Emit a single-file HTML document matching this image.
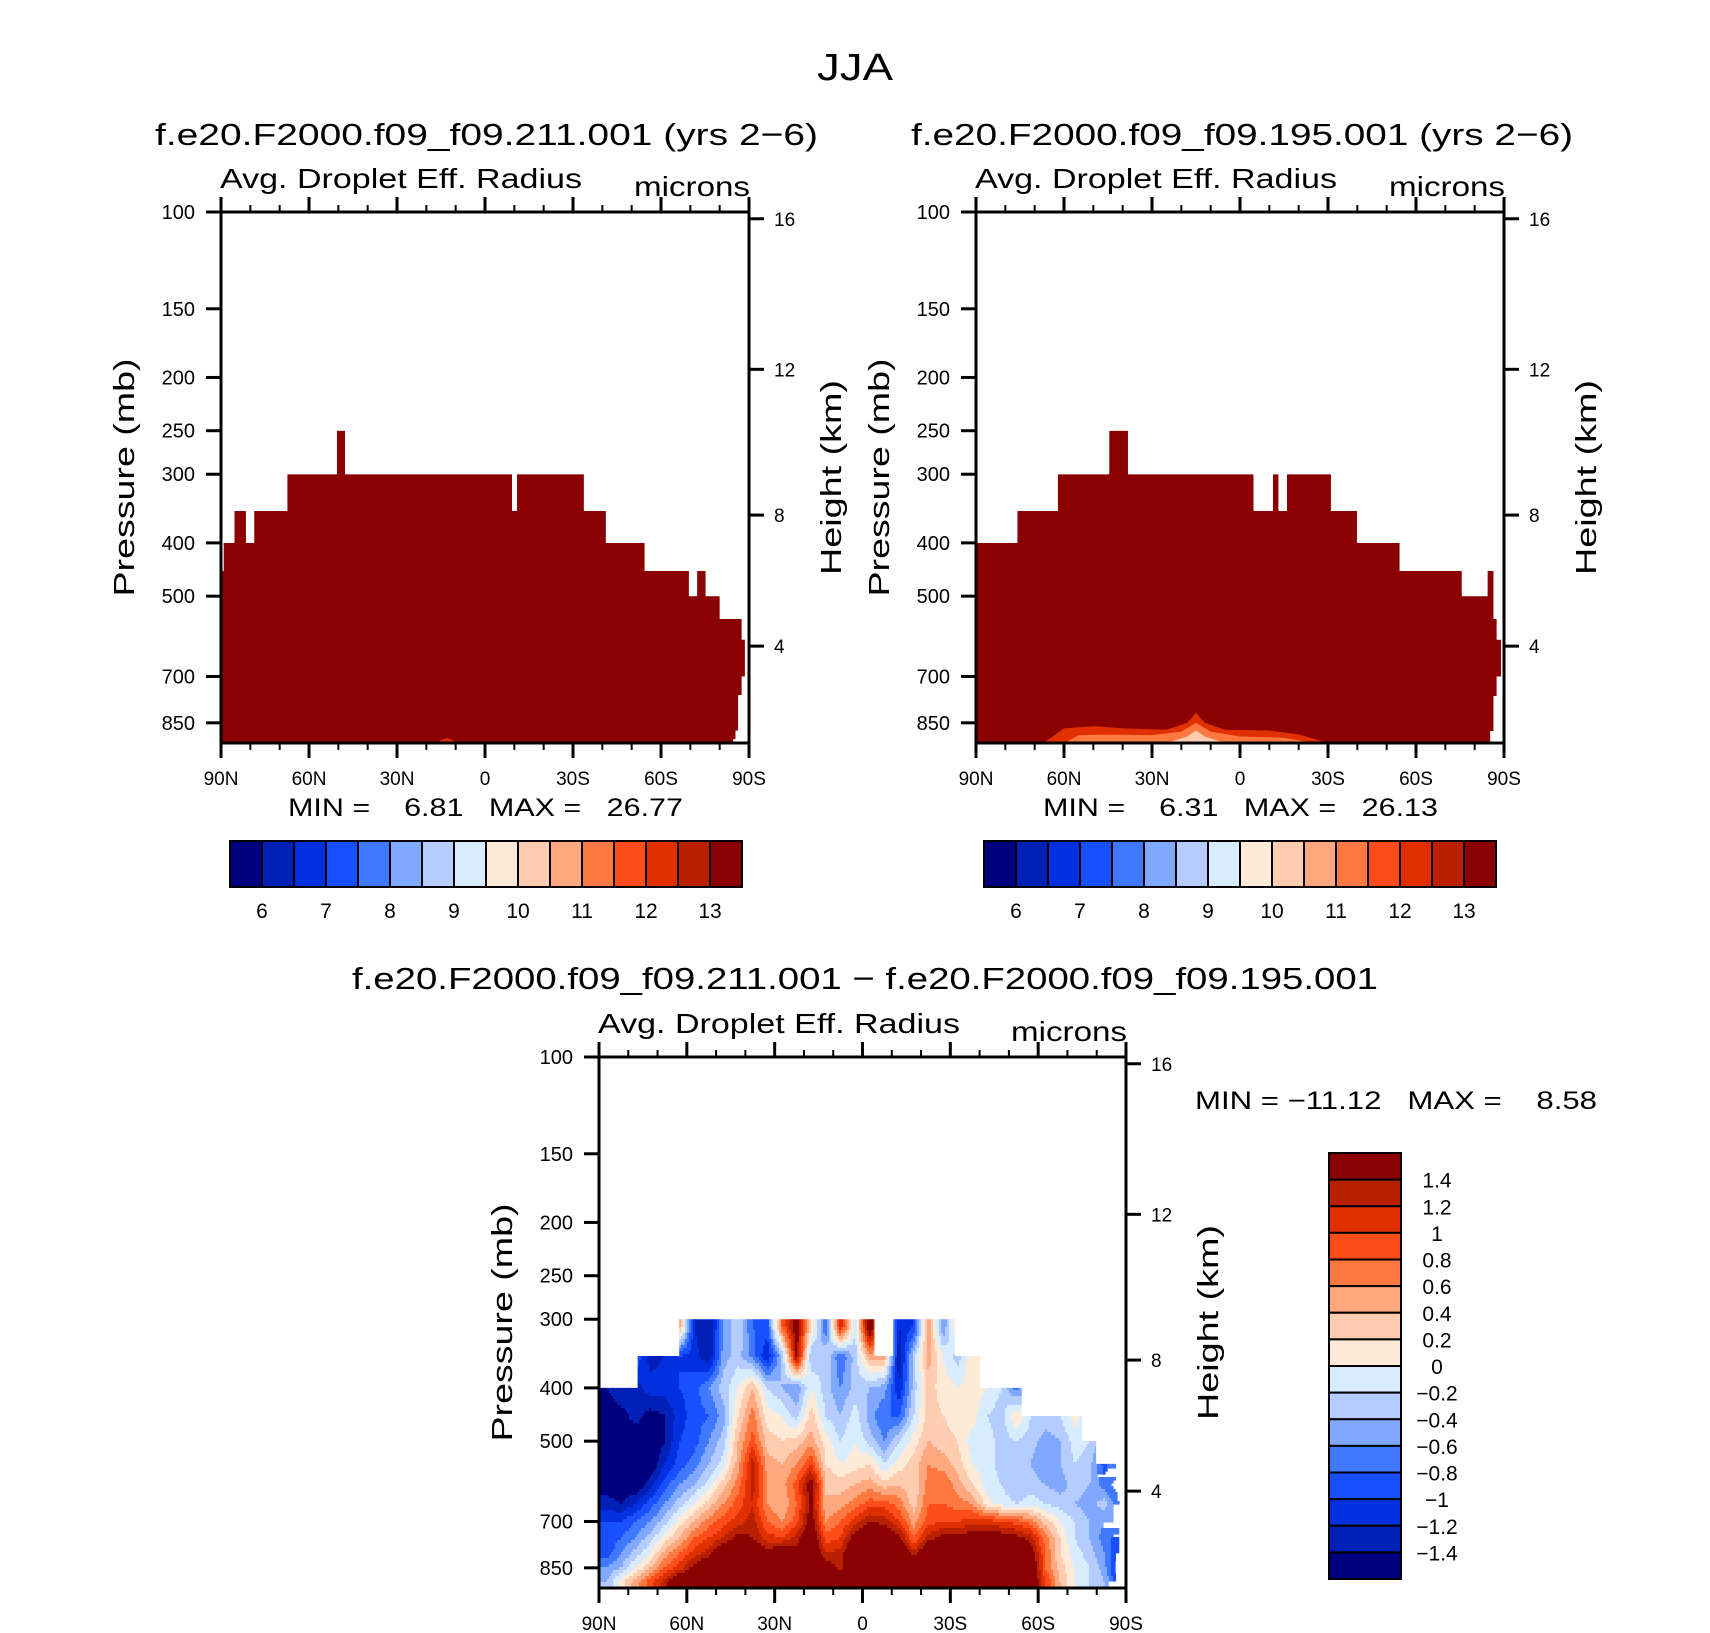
<!DOCTYPE html>
<html><head><meta charset="utf-8"><style>
html,body{margin:0;padding:0;background:#fff}
svg{display:block}
text{font-family:"Liberation Sans",sans-serif;fill:#000}
.pre{white-space:pre}
</style></head><body>
<svg id="chart" width="1710" height="1633" viewBox="0 0 1710 1633" xmlns="http://www.w3.org/2000/svg">
<text x="855" y="80" font-size="38" text-anchor="middle" textLength="76" lengthAdjust="spacingAndGlyphs">JJA</text>
<text x="155" y="145" font-size="31" textLength="663" lengthAdjust="spacingAndGlyphs">f.e20.F2000.f09_f09.211.001 (yrs 2−6)</text>
<text x="911" y="145" font-size="31" textLength="662" lengthAdjust="spacingAndGlyphs">f.e20.F2000.f09_f09.195.001 (yrs 2−6)</text>
<text x="352" y="989" font-size="31" textLength="1026" lengthAdjust="spacingAndGlyphs">f.e20.F2000.f09_f09.211.001 − f.e20.F2000.f09_f09.195.001</text>
<g id="layer"></g>
</svg>
<script>
// ---- data ----
const pressureTicks=[100,150,200,250,300,400,500,700,850];
const heightTicks=[4,8,12,16];
const latTicks=[90,80,70,60,50,40,30,20,10,0,-10,-20,-30,-40,-50,-60,-70,-80,-90];
const latMajorLabels={"90":"90N","60":"60N","30":"30N","0":"0","-30":"30S","-60":"60S","-90":"90S"};
const palette=["#00007f","#0020b8","#0030e0","#1850ff","#4078ff","#80a8ff","#b4ccff","#d8ecff","#ffead8","#ffccb0","#ffa880","#ff7840","#ff4c18","#e03000","#b82000","#8b0000"];
const absLabels=["6","7","8","9","10","11","12","13"];
const diffLabels=["1.4","1.2","1","0.8","0.6","0.4","0.2","0","−0.2","−0.4","−0.6","−0.8","−1","−1.2","−1.4"];
const diffLevels=[-1.4,-1.2,-1,-0.8,-0.6,-0.4,-0.2,0,0.2,0.4,0.6,0.8,1,1.2,1.4];
// columns: [latFrom, latTo, topPressure, bottomPressure]
const p1Columns=[[90,89.1,450,925],[89.1,85.4,400,925],[85.4,81.6,350,925],[81.6,78.7,400,925],[78.7,67.4,350,925],[67.4,50.5,300,925],[50.5,47.8,250,925],[47.8,-9.1,300,925],[-9.1,-10.9,350,925],[-10.9,-33.6,300,925],[-33.6,-41.1,350,925],[-41.1,-54.3,400,925],[-54.3,-69.4,450,925],[-69.4,-72.3,500,925],[-72.3,-75.1,450,925],[-75.1,-79.9,500,925],[-79.9,-84.5,550,925],[-84.5,-85.3,550,910],[-85.3,-86.2,550,878],[-86.2,-87.4,550,757],[-87.4,-88.5,600,700]];
const p2Columns=[[90,75.9,400,925],[75.9,62.1,350,925],[62.1,44.6,300,925],[44.6,38.3,250,925],[38.3,-4.5,300,925],[-4.5,-11.2,350,925],[-11.2,-13,300,925],[-13,-16,350,925],[-16,-30.9,300,925],[-30.9,-39.8,350,925],[-39.8,-54.3,400,925],[-54.3,-75.5,450,925],[-75.5,-84.4,500,925],[-84.4,-85.2,450,925],[-85.2,-86.3,450,880],[-86.3,-87.4,550,760],[-87.4,-88.9,600,700]];
const p3Columns=[[90,76.8,400,925],[76.8,62.6,350,925],[62.6,-4,300,925],[-4,-10.5,350,925],[-10.5,-31.5,300,925],[-31.5,-40.1,350,925],[-40.1,-54.3,400,925],[-54.3,-75,450,925],[-75,-79.7,500,925],[-79.7,-84,550,925],[-84,-86.5,550,900],[-86.5,-87.6,600,800],[-87.6,-88.8,600,690]];
// low-level features for panels 1/2
const p1BumpLat=[17,13,9];
const p1BumpP=[925,905,925];
const p2LayerALat=[67,60,50,40,25,18,15,12,5,-10,-20,-30];
const p2LayerAP=[925,870,862,870,875,850,815,850,875,878,892,925];
const p2LayerBLat=[60,55,45,30,20,15,10,0,-15,-25];
const p2LayerBP=[925,895,893,895,882,850,882,900,905,925];
const p2LayerCLat=[25,18,15,12,5];
const p2LayerCP=[925,900,878,900,925];
// difference field grid
const gridLats=[87.5,82.5,77.5,72.5,67.5,62.5,57.5,52.5,47.5,42.5,37.5,32.5,27.5,22.5,17.5,12.5,7.5,2.5,-2.5,-7.5,-12.5,-17.5,-22.5,-27.5,-32.5,-37.5,-42.5,-47.5,-52.5,-57.5,-62.5,-67.5,-72.5,-77.5,-82.5,-87.5,-90];
const r310=[-1.0,-1.0,-1.0,-1.0,-1.0,0.5,-1.2,-1.4,-0.6,-0.2,-0.8,-0.9,0.8,1.6,0.2,-0.8,1.2,-0.2,1.8,0.0,-1.2,-1.0,0.6,-0.6,0.3,0.2,0,0,0,0,0,0,0,0,0,0,0];
const r350=[-1.2,-1.0,-0.8,-1.3,-1.2,-1.0,-1.1,-1.4,-0.5,-0.3,-0.7,-1.2,-0.4,1.5,-0.4,-0.2,-0.8,-0.3,0.5,0.5,-1.4,-0.3,0.5,0.0,-0.3,0.2,0.0,-0.2,-0.5,-0.3,-0.3,-0.3,0,0,0,0,0];
const r400=[-1.4,-1.2,-1.3,-1.1,-1.1,-1.0,-0.9,-0.6,-0.3,0.0,0.4,-0.2,-0.4,-0.6,0.0,-0.3,-0.6,-0.3,-0.4,-0.5,-1.2,-0.3,0.3,0.1,0.0,0.1,0.0,-0.2,-0.7,-0.3,-0.3,-0.2,0.1,-0.2,-0.4,-0.5,-0.5];
const r450=[-1.6,-1.5,-1.3,-1.5,-1.4,-1.1,-0.9,-0.8,-0.5,0.2,0.7,0.1,0.0,-0.3,0.3,-0.2,-0.4,-0.1,-0.5,-0.8,-0.8,-0.2,0.3,0.2,0.1,0.1,-0.2,-0.3,0.2,-0.2,-0.3,-0.2,0.1,-0.2,-0.4,-0.5,-0.5];
const r500=[-1.6,-1.6,-1.6,-1.6,-1.4,-1.0,-0.9,-0.6,-0.3,0.4,0.9,0.3,0.2,0.3,0.5,0.1,-0.2,0.0,-0.3,-0.6,-0.2,0.1,0.4,0.3,0.2,-0.1,-0.1,-0.3,-0.2,-0.3,-0.5,-0.4,-0.1,-0.2,-0.5,-0.5,-0.5];
const r550=[-1.6,-1.6,-1.6,-1.6,-1.2,-0.9,-0.7,-0.4,-0.1,0.5,1.3,0.5,0.4,0.6,1.0,0.2,0.0,0.1,0.2,-0.2,0.1,0.3,0.6,0.5,0.3,0.0,-0.1,-0.3,-0.2,-0.4,-0.6,-0.4,-0.2,-0.3,-0.9,-0.5,-0.6];
const r600=[-1.5,-1.6,-1.6,-1.3,-0.9,-0.6,-0.4,-0.1,0.3,0.7,1.3,0.6,0.5,0.9,1.6,0.4,0.3,0.4,0.5,0.3,0.4,0.2,0.7,0.8,0.5,0.2,-0.1,-0.2,-0.4,-0.3,-0.4,-0.5,-0.3,-0.4,-0.7,-0.9,-0.9];
const r650=[-1.3,-1.4,-1.2,-0.9,-0.6,-0.3,0.0,0.3,0.6,0.9,1.2,0.6,0.4,0.8,1.5,0.4,0.5,0.7,0.9,0.9,0.7,0.3,0.8,0.8,0.7,0.6,0.1,-0.1,-0.2,-0.1,-0.2,-0.3,-0.4,-0.5,-0.3,-0.8,-0.8];
const r700=[-1.0,-1.0,-0.8,-0.6,-0.3,0.1,0.4,0.7,0.9,1.1,1.3,0.8,0.6,0.9,1.6,0.6,0.8,1.1,1.4,1.3,1.0,0.5,0.9,1.0,1.0,1.1,1.1,1.0,0.9,0.7,0.3,0.0,-0.2,-0.4,-0.6,-0.6,-0.7];
const r750=[-1.0,-0.8,-0.6,-0.3,0.1,0.4,0.8,1.0,1.2,1.5,1.4,1.1,1.0,1.3,1.8,0.9,1.0,1.6,1.8,1.8,1.5,0.8,1.3,1.5,1.5,1.6,1.6,1.6,1.5,1.3,0.7,0.2,-0.2,-0.4,-0.7,-0.9,-1.0];
const r800=[-0.9,-0.6,-0.3,0.0,0.5,0.8,1.1,1.3,1.8,1.8,1.8,1.5,1.8,1.5,1.8,1.2,1.3,1.8,1.8,1.8,1.8,1.3,1.8,1.8,1.8,1.8,1.8,1.8,1.8,1.6,0.8,0.2,-0.1,-0.3,-0.6,-1.0,-1.1];
const r850=[-0.6,-0.4,0.0,0.4,0.8,1.1,1.5,1.8,1.8,1.8,1.8,1.8,1.8,1.8,1.8,1.6,1.3,1.8,1.8,1.8,1.8,1.8,1.8,1.8,1.8,1.8,1.8,1.8,1.8,1.8,0.8,0.3,0.0,-0.2,-0.5,-1.2,-1.2];
const r900=[-0.4,0.1,0.5,0.9,1.3,1.8,1.8,1.8,1.8,1.8,1.8,1.8,1.8,1.8,1.8,1.8,1.8,1.8,1.8,1.8,1.8,1.8,1.8,1.8,1.8,1.8,1.8,1.8,1.8,1.8,1.0,0.4,0.0,-0.2,-0.4,-1.0,-1.0];
const gridLevels=[300,310,350,400,450,500,550,600,650,700,750,800,850,900,925];
const diffRows=[r310,r310,r350,r400,r450,r500,r550,r600,r650,r700,r750,r800,r850,r900,r900];

// ---- helpers ----
const NS="http://www.w3.org/2000/svg";
const layer=document.getElementById('layer');
function mk(tag,attrs,parent){const e=document.createElementNS(NS,tag);for(const k in attrs)e.setAttribute(k,attrs[k]);(parent||layer).appendChild(e);return e;}
const PBOT=925;
function makeAxes(L,R,T,B){
  return {x:lat=>L+(90-lat)/180*(R-L), y:p=>T+Math.log(p/100)/Math.log(PBOT/100)*(B-T)};
}
function heightToP(z){z*=1000;return z<=11000?1013.25*Math.pow(1-2.25577e-5*z,5.25588):226.32*Math.exp(-(z-11000)/6341.6);}
function colorIdx(v){let i=0;while(i<diffLevels.length&&v>=diffLevels[i])i++;return i;}

function drawPanel(id,L,R,T,B,cols,fillFn){
  const ax=makeAxes(L,R,T,B);
  const g=mk('g',{});
  
  
  const clipId=id+'-clip';
  const cp=mk('clipPath',{id:clipId},g);
  cols.forEach(c=>{
    const x1=ax.x(c[0]),x2=ax.x(c[1]),y1=ax.y(c[2]),y2=ax.y(c[3]);
    mk('rect',{x:x1,y:y1,width:x2-x1+0.3,height:y2-y1},cp);
  });
  const data=mk('g',{'clip-path':'url(#'+clipId+')'},g);
  
  
  fillFn(data,ax);
  const fr=mk('rect',{x:L,y:T,width:R-L,height:B-T,fill:'none',stroke:'#000','stroke-width':3},g);
  
  
  latTicks.forEach(lat=>{
    const x=ax.x(lat);const major=(lat%30===0);const len=major?15:7;
    mk('line',{x1:x,x2:x,y1:B,y2:B+len,stroke:'#000','stroke-width':major?3:2},g);
    mk('line',{x1:x,x2:x,y1:T,y2:T-len,stroke:'#000','stroke-width':major?3:2},g);
    if(major){const t=mk('text',{x:x,y:B+42,'font-size':19,'text-anchor':'middle'},g);t.textContent=latMajorLabels[String(lat)];
      }
  });
  pressureTicks.forEach(p=>{
    const y=ax.y(p);
    mk('line',{x1:L-15,x2:L,y1:y,y2:y,stroke:'#000','stroke-width':3},g);
    const t=mk('text',{x:L-26,y:y+7,'font-size':20,'text-anchor':'end'},g);t.textContent=p;
    
  });
  heightTicks.forEach(h=>{
    const y=ax.y(heightToP(h));
    mk('line',{x1:R,x2:R+15,y1:y,y2:y,stroke:'#000','stroke-width':3},g);
    const t=mk('text',{x:R+25,y:y+7,'font-size':19},g);t.textContent=h;
    
  });
  const a=mk('text',{x:L-1,y:T-24,'font-size':28,textLength:362,lengthAdjust:'spacingAndGlyphs'},g);a.textContent='Avg. Droplet Eff. Radius';
  
  const m=mk('text',{x:R-115,y:T-16,'font-size':28,textLength:116,lengthAdjust:'spacingAndGlyphs'},g);m.textContent='microns';
  
  const pc=(T+B)/2;
  const pl=mk('text',{x:0,y:0,'font-size':29,'text-anchor':'middle',textLength:238,lengthAdjust:'spacingAndGlyphs',transform:`translate(${L-87},${pc}) rotate(-90)`},g);pl.textContent='Pressure (mb)';
  
  const hl=mk('text',{x:0,y:0,'font-size':29,'text-anchor':'middle',textLength:195,lengthAdjust:'spacingAndGlyphs',transform:`translate(${R+92},${pc}) rotate(-90)`},g);hl.textContent='Height (km)';
  
  return ax;
}
function poly(parent,ax,lats,ps,color,name){
  const pts=lats.map((l,i)=>ax.x(l)+','+ax.y(ps[i])).join(' ');
  const e=mk('polygon',{points:pts,fill:color},parent);
  
  
}
function fillAbs(cols,extra){
  return (g,ax)=>{
    cols.forEach(c=>{
      const x1=ax.x(c[0]),x2=ax.x(c[1]),y1=ax.y(c[2]),y2=ax.y(c[3]);
      const r=mk('rect',{x:x1,y:y1,width:x2-x1+0.5,height:y2-y1,fill:palette[15]},g);
      
      
    });
    extra(g,ax);
  };
}
function fillDiff(g,ax,L,R,T,B){
  const levY=gridLevels.map(p=>ax.y(p));
  const latX=gridLats.map(l=>ax.x(l));
  const step=3;
  for(let y=T;y<B;y+=step){
    const yc=y+step/2;
    let j=0;while(j<levY.length-2&&yc>levY[j+1])j++;
    let ty=(yc-levY[j])/(levY[j+1]-levY[j]);ty=Math.max(0,Math.min(1,ty));
    let runStart=L,runC=-1;
    for(let x=L;x<=R;x+=2){
      let c=-1;
      if(x<R){
        const xc=x+1;
        let i=0;while(i<latX.length-2&&xc>latX[i+1])i++;
        let tx=(xc-latX[i])/(latX[i+1]-latX[i]);tx=Math.max(0,Math.min(1,tx));
        const a=diffRows[j][i]*(1-tx)+diffRows[j][i+1]*tx;
        const b=diffRows[j+1][i]*(1-tx)+diffRows[j+1][i+1]*tx;
        c=colorIdx(a*(1-ty)+b*ty);
      }
      if(c!==runC){
        if(runC>=0){const r=mk('rect',{x:runStart,y:y,width:x-runStart+0.6,height:step+0.6,fill:palette[runC]},g);
          }
        runStart=x;runC=c;
      }
    }
  }
}
drawPanel('panel1',221,749,212,743,p1Columns,fillAbs(p1Columns,(g,ax)=>{poly(g,ax,p1BumpLat,p1BumpP,palette[13],'surface-bump');}));
drawPanel('panel2',976,1504,212,743,p2Columns,fillAbs(p2Columns,(g,ax)=>{
  poly(g,ax,p2LayerALat,p2LayerAP,palette[13],'surface-layer-a');
  poly(g,ax,p2LayerBLat,p2LayerBP,palette[11],'surface-layer-b');
  poly(g,ax,p2LayerCLat,p2LayerCP,palette[9],'surface-layer-c');
}));
drawPanel('panel3',599,1126,1057,1588,p3Columns,(g,ax)=>fillDiff(g,ax,599,1126,1057,1588));

function txt(s,x,y,size,name,len){const t=mk('text',{x:x,y:y,'font-size':size,'class':'pre'});if(len){t.setAttribute('textLength',len);t.setAttribute('lengthAdjust','spacingAndGlyphs');}t.textContent=s;
  return t;}
txt('MIN =    6.81   MAX =   26.77',288,816,25,'panel1-min-max',395);
txt('MIN =    6.31   MAX =   26.13',1043,816,25,'panel2-min-max',395);
txt('MIN = −11.12   MAX =    8.58',1195,1109,25,'panel3-min-max',402);

function hbar(L,R,T,B,name){
  const g=mk('g',{});
  const w=(R-L)/palette.length;
  palette.forEach((c,i)=>{const r=mk('rect',{x:L+i*w,y:T,width:w,height:B-T,fill:c,stroke:'#000','stroke-width':2},g);
    });
  absLabels.forEach((s,k)=>{const t=mk('text',{x:L+(2*k+1)*w,y:B+31,'font-size':21,'text-anchor':'middle'},g);t.textContent=s;
    });
}
hbar(230,742,841,887,'panel1-colorbar');
hbar(984,1496,841,887,'panel2-colorbar');
(function(){
  const L=1329,R=1401,T=1153,B=1579;
  const g=mk('g',{});
  const h=(B-T)/palette.length;
  palette.slice().reverse().forEach((c,i)=>{const r=mk('rect',{x:L,y:T+i*h,width:R-L,height:h,fill:c,stroke:'#000','stroke-width':2},g);
    });
  diffLabels.forEach((s,k)=>{const t=mk('text',{x:1437,y:T+(k+1)*h+8,'font-size':21,'text-anchor':'middle'},g);t.textContent=s;
    });
})();
</script>
</body></html>
